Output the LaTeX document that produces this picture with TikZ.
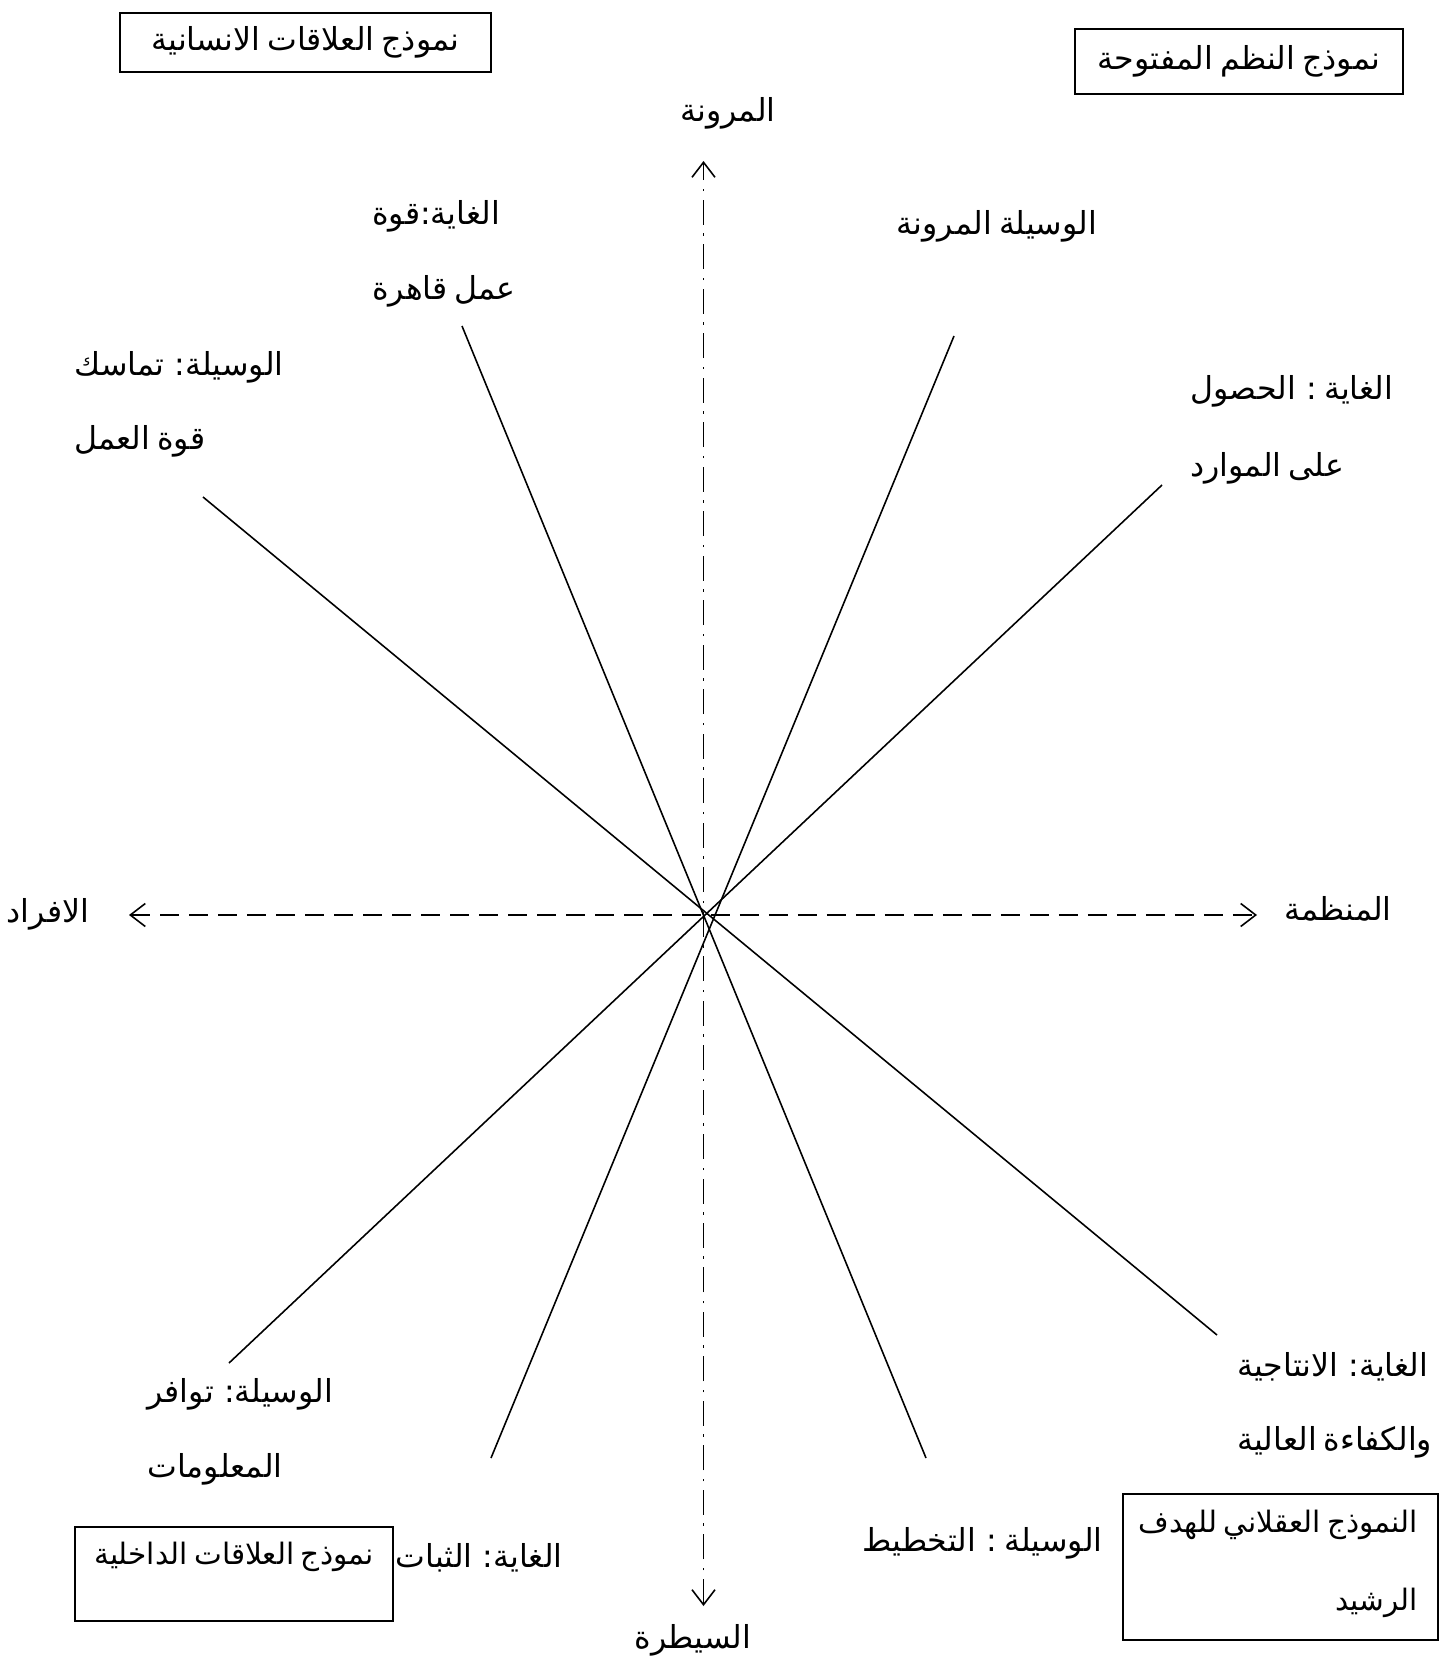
\documentclass[tikz,border=0pt]{standalone}
\usepackage{fontspec}
\newfontfamily\arabicfont[Script=Arabic,WordSpace=0.7]{DejaVu Sans}
\TeXXeTstate=1
\usetikzlibrary{
  arrows.meta, % for the open barb tips of the axes
  positioning
}
\newcommand{\artxt}[1]{\beginR #1\endR}
\tikzset{
  lbl/.style={ % style for every Arabic label
    font=\arabicfont\fontsize{18}{22}\selectfont,
    inner sep=0pt,
  },
  boxlbl/.style={ % slightly tighter text inside the lower boxes
    lbl,
    font=\arabicfont\fontsize{16.8}{20}\selectfont,
  },
  modelbox/.style={ % frame around a model name
    rectangle,draw,line width=0.9pt,
    inner sep=0pt,
  },
  axisline/.style={ % style for the two axes
    line width=0.9pt,
    {Straight Barb[length=3mm,width=4.6mm]}-{Straight Barb[length=3mm,width=4.6mm]},
  },
  spoke/.style={ % the four lines through the centre
    line width=0.9pt,
  },
}

\begin{document}
\begin{tikzpicture}[x=0.02cm,y=-0.02cm]
  \useasboundingbox (0,0) rectangle (1443,1659);

  % axes
  \coordinate (top) at (703.5,161);
  \coordinate (bot) at (703.5,1606);
  \coordinate (lft) at (129,915);
  \coordinate (rgt) at (1257,915);
  \draw[axisline,dash pattern=on 0.5cm off 0.17cm on 0.05cm off 0.17cm] (bot) -- (top);
  \draw[axisline,dash pattern=on 0.38cm off 0.2cm] (lft) -- (rgt);

  % spokes
  \coordinate (s1a) at (203,497);
  \coordinate (s1b) at (1217,1335);
  \coordinate (s2a) at (462,326);
  \coordinate (s2b) at (926,1458);
  \coordinate (s3a) at (954,336);
  \coordinate (s3b) at (491,1458);
  \coordinate (s4a) at (1162,485);
  \coordinate (s4b) at (229,1363);
  \draw[spoke] (s1a) -- (s1b);
  \draw[spoke] (s2a) -- (s2b);
  \draw[spoke] (s3a) -- (s3b);
  \draw[spoke] (s4a) -- (s4b);

  % axis names
  \node[lbl] (flex) at (728,113) {\artxt{المرونة}};
  \node[lbl] (ctrl) at (693,1640) {\artxt{السيطرة}};
  \node[lbl] (ppl) at (48,914) {\artxt{الافراد}};
  \node[lbl] (org) at (1338,909) {\artxt{المنظمة}};

  % model boxes
  \node[modelbox,lbl,minimum width=7.42cm,minimum height=1.18cm] (human) at (305.5,42.5)
  {\artxt{نموذج العلاقات الانسانية}};
  \node[modelbox,lbl,minimum width=6.56cm,minimum height=1.3cm] (open) at (1239,61.5)
  {\artxt{نموذج النظم المفتوحة}};
  \node[modelbox,minimum width=6.36cm,minimum height=1.88cm] (inbox) at (234,1574) {};
  \node[boxlbl,anchor=east] (inner) at (374,1557) {\artxt{نموذج العلاقات الداخلية}};
  \node[modelbox,minimum width=6.3cm,minimum height=2.92cm] (ratbox) at (1280.5,1567) {};
  \node[boxlbl,anchor=east] (rat1) at (1418,1525) {\artxt{النموذج العقلاني للهدف}};
  \node[boxlbl,anchor=east] (rat2) at (1418,1603) {\artxt{الرشيد}};

  % ends and means
  \node[lbl] (goalA1) at (436,216) {\artxt{الغاية:قوة}};
  \node[lbl] (goalA2) at (444,291) {\artxt{عمل قاهرة}};
  \node[lbl] (meansB) at (997,226) {\artxt{الوسيلة المرونة}};
  \node[lbl,anchor=west] (meansA1) at (74,367) {\artxt{الوسيلة: تماسك}};
  \node[lbl,anchor=west] (meansA2) at (74,441) {\artxt{قوة العمل}};
  \node[lbl,anchor=west] (goalB1) at (1190,391) {\artxt{الغاية : الحصول}};
  \node[lbl,anchor=west] (goalB2) at (1190,468) {\artxt{على الموارد}};
  \node[lbl,anchor=west] (meansC1) at (147,1394) {\artxt{الوسيلة: توافر}};
  \node[lbl,anchor=west] (meansC2) at (147,1469) {\artxt{المعلومات}};
  \node[lbl,anchor=west] (goalC1) at (1237,1367) {\artxt{الغاية: الانتاجية}};
  \node[lbl,anchor=west] (goalC2) at (1237,1442) {\artxt{والكفاءة العالية}};
  \node[lbl,anchor=east] (goalD) at (563,1558) {\artxt{الغاية: الثبات}};
  \node[lbl,anchor=east] (meansD) at (1103,1543) {\artxt{الوسيلة : التخطيط}};
\end{tikzpicture}
\end{document}
